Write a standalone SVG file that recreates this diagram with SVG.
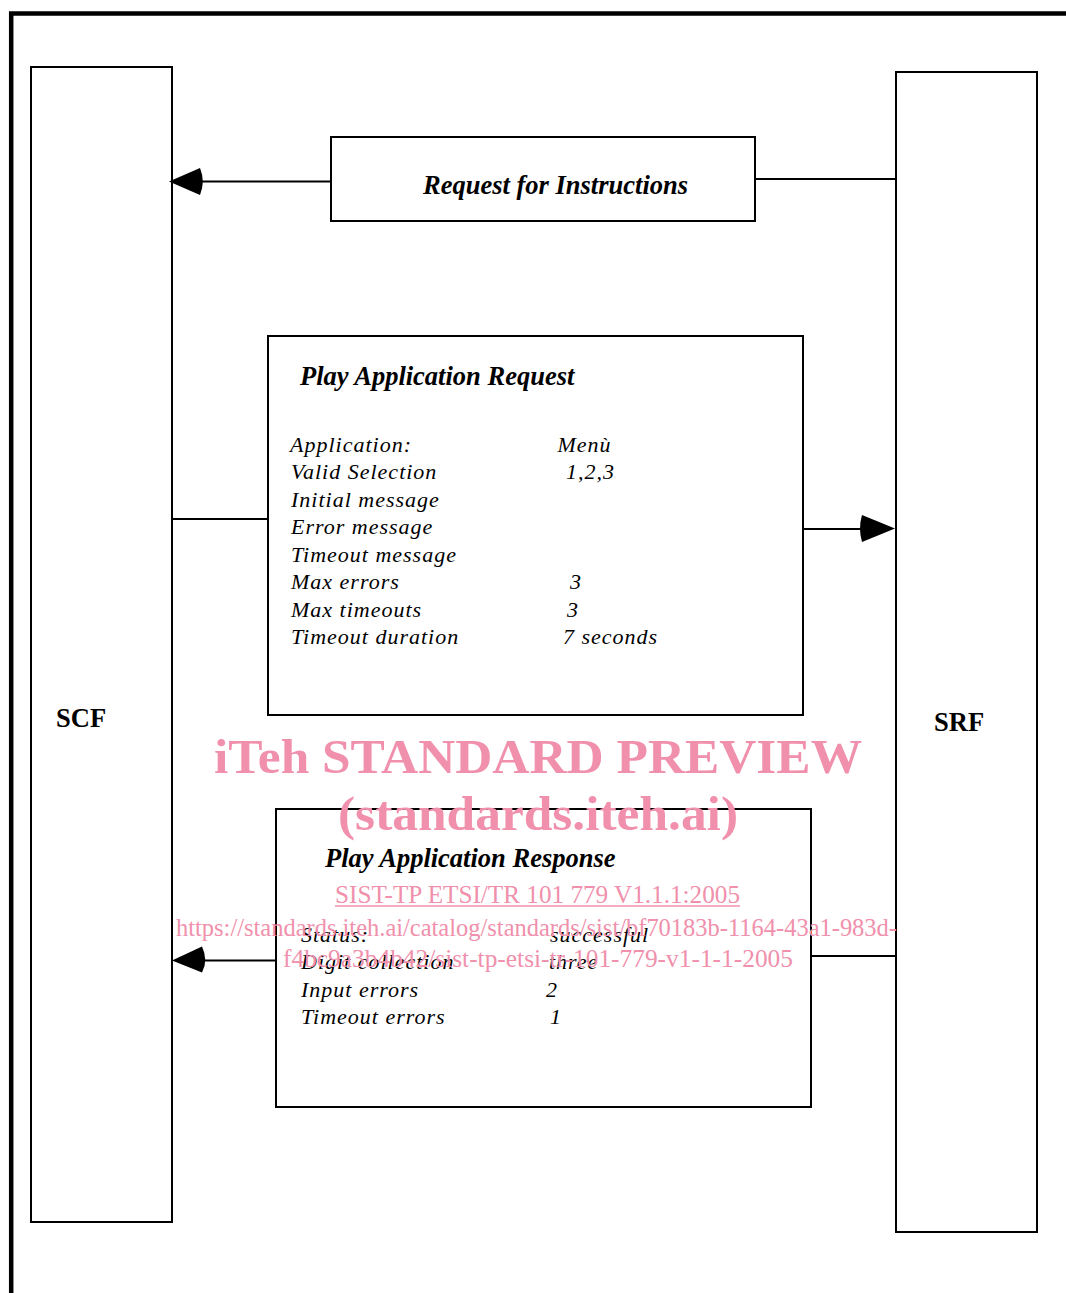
<svg xmlns="http://www.w3.org/2000/svg" width="1066" height="1293" viewBox="0 0 1066 1293">
<style>
  .box { fill: #ffffff; stroke: #000000; stroke-width: 2; }
  .line { fill: none; stroke: #000000; stroke-width: 2; }
  .head { fill: #000000; stroke: none; }
  .t { font-family: "Liberation Serif", "Times New Roman", serif; fill: #000000; }
  .title { font-weight: bold; font-style: italic; font-size: 26.5px; }
  .item { font-style: italic; font-size: 22px; letter-spacing: 1px; }
  .ent { font-weight: bold; font-size: 26.5px; }
  .wm { font-family: "Liberation Serif", "Times New Roman", serif; fill: #f090ac; }
  .wmb { font-weight: bold; font-size: 48px; }
  .wms { font-size: 25px; }
</style>
<rect width="1066" height="1293" fill="#ffffff"/>
<g id="frame">
  <path d="M11.2,1293 V13.4 H1066" fill="none" stroke="#000000" stroke-width="4.5"/>
</g>
<g id="scf">
  <rect class="box" x="31" y="67" width="141" height="1155"/>
  <text class="t ent" x="56" y="726.5">SCF</text>
</g>
<g id="srf">
  <rect class="box" x="896" y="72" width="141" height="1160"/>
  <text class="t ent" x="934" y="731">SRF</text>
</g>
<g id="connectors">
  <line class="line" x1="755" y1="179" x2="896" y2="179"/>
  <line class="line" x1="198" y1="181.5" x2="331" y2="181.5"/>
  <path class="head" d="M169,181.5 L200,168 Q205.5,181.5 200,195 Z"/>
  <line class="line" x1="172" y1="519" x2="268" y2="519"/>
  <line class="line" x1="803" y1="529" x2="864" y2="529"/>
  <path class="head" d="M895,528.5 L862,515 Q858,528.5 862,542 Z"/>
  <line class="line" x1="811" y1="956" x2="896" y2="956"/>
  <line class="line" x1="200" y1="960.5" x2="276" y2="960.5"/>
  <path class="head" d="M172,960.5 L202,946.5 Q208.5,960.5 202,972.5 Z"/>
</g>
<g id="request-for-instructions">
  <rect class="box" x="331" y="137" width="424" height="84"/>
  <text class="t title" x="423" y="194.3" font-size="26">Request for Instructions</text>
</g>
<g id="play-application-request">
  <rect class="box" x="268" y="336" width="535" height="379"/>
  <text class="t title" x="300" y="385">Play Application Request</text>
  <text class="t item" x="290" y="451.5">Application:</text>
  <text class="t item" x="557.5" y="451.5">Menù</text>
  <text class="t item" x="291" y="479">Valid Selection</text>
  <text class="t item" x="566" y="479">1,2,3</text>
  <text class="t item" x="291" y="506.5">Initial message</text>
  <text class="t item" x="291" y="534">Error message</text>
  <text class="t item" x="291" y="561.5">Timeout message</text>
  <text class="t item" x="291" y="589">Max errors</text>
  <text class="t item" x="570" y="589">3</text>
  <text class="t item" x="291" y="616.5">Max timeouts</text>
  <text class="t item" x="567" y="616.5">3</text>
  <text class="t item" x="291" y="644">Timeout duration</text>
  <text class="t item" x="563" y="644">7 seconds</text>
</g>
<g id="play-application-response">
  <rect class="box" x="276" y="809" width="535" height="298"/>
  <text class="t title" x="325" y="866.5">Play Application Response</text>
  <text class="t item" x="301" y="941.5">Status:</text>
  <text class="t item" x="550" y="941.5">successful</text>
  <text class="t item" x="301" y="969">Digit collection</text>
  <text class="t item" x="549" y="969">three</text>
  <text class="t item" x="301" y="996.5">Input errors</text>
  <text class="t item" x="546" y="996.5">2</text>
  <text class="t item" x="301" y="1024">Timeout errors</text>
  <text class="t item" x="550" y="1024">1</text>
</g>
<g id="watermark">
  <text class="wm wmb" x="214" y="773" textLength="648" lengthAdjust="spacingAndGlyphs">iTeh STANDARD PREVIEW</text>
  <text class="wm wmb" x="338" y="830" textLength="400" lengthAdjust="spacingAndGlyphs">(standards.iteh.ai)</text>
  <text class="wm wms" x="335" y="903" textLength="405" lengthAdjust="spacingAndGlyphs">SIST-TP ETSI/TR 101 779 V1.1.1:2005</text>
  <line x1="335" y1="906" x2="740" y2="906" stroke="#f090ac" stroke-width="1.5"/>
  <text class="wm wms" x="176" y="936" textLength="721" lengthAdjust="spacingAndGlyphs">https://standards.iteh.ai/catalog/standards/sist/bf70183b-1164-43a1-983d-</text>
  <text class="wm wms" x="283" y="967" textLength="510" lengthAdjust="spacingAndGlyphs">f4bc9a3b4b42/sist-tp-etsi-tr-101-779-v1-1-1-2005</text>
</g>
</svg>
